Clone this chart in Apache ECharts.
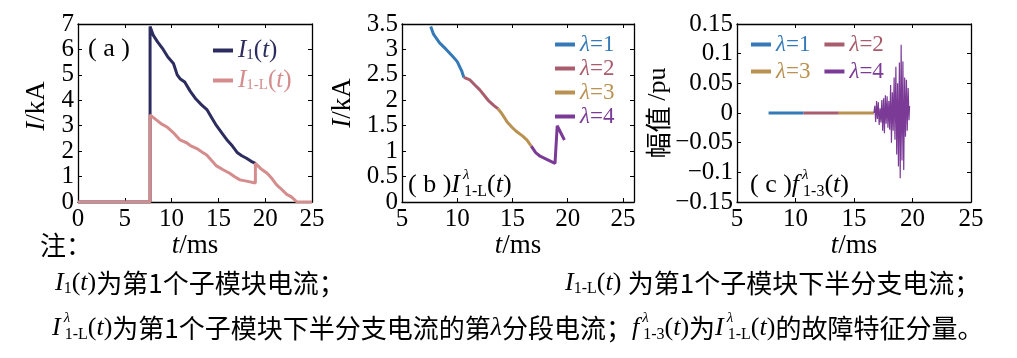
<!DOCTYPE html>
<html><head><meta charset="utf-8">
<script src="https://cdn.jsdelivr.net/npm/echarts@6/dist/echarts.min.js"></script>
<style>html,body{margin:0;padding:0;background:#fff}#c{width:1017px;height:358px}</style>
</head><body><div id="c"></div>
<script>
// ---------- data ----------
// (a) I1(t)
const tA_I1 = [0, 7.7, 7.7, 8.05, 8.5, 9.1, 9.6, 10.2, 10.6, 10.9, 11.4, 12.0, 12.6, 13.2, 13.8, 14.3, 14.8, 15.4, 15.9, 16.5, 17.0, 17.5, 18.0, 18.5, 18.95];
const vA_I1 = [0, 0, 6.9, 6.55, 6.3, 6.0, 5.7, 5.45, 5.0, 4.85, 4.72, 4.35, 4.05, 3.82, 3.62, 3.3, 3.0, 2.7, 2.45, 2.2, 1.95, 1.82, 1.72, 1.6, 1.52];
// (a) I1-L(t)
const tA_IL = [0, 7.7, 7.7, 8.4, 9.0, 9.5, 10.2, 10.9, 11.6, 12.0, 12.7, 13.2, 13.75, 14.3, 14.8, 15.5, 16.2, 16.7, 17.3, 18.0, 18.95, 18.95, 19.5, 20.2, 20.7, 21.2, 21.6, 22.3, 22.8, 23.4, 25];
const vA_IL = [0, 0, 3.42, 3.22, 3.05, 2.95, 2.72, 2.44, 2.33, 2.22, 2.1, 1.98, 1.85, 1.62, 1.42, 1.27, 1.13, 1.0, 0.87, 0.82, 0.75, 1.52, 1.32, 1.13, 0.93, 0.68, 0.55, 0.3, 0.2, 0, 0];
// (b) segments of I1-L
const tB1 = [7.6, 7.85, 8.4, 9.0, 9.6, 10.0, 10.4, 10.6];
const vB1 = [3.45, 3.3, 3.13, 3.0, 2.86, 2.76, 2.58, 2.45];
const tB2 = [10.6, 11.15, 11.6, 12.06, 12.8, 13.3, 13.7];
const vB2 = [2.45, 2.4, 2.3, 2.2, 2.0, 1.9, 1.83];
const tB3 = [13.7, 14.0, 14.5, 15.0, 15.4, 15.9, 16.3, 16.7];
const vB3 = [1.83, 1.75, 1.58, 1.46, 1.38, 1.3, 1.22, 1.1];
const tB4 = [16.7, 17.1, 17.5, 18.1, 18.85, 19.05, 19.7];
const vB4 = [1.1, 0.97, 0.9, 0.84, 0.76, 1.5, 1.22];
// (c) fault feature components
const tC1 = [7.7, 10.7];   const vC1 = [0, 0];
const tC2 = [10.7, 13.7];  const vC2 = [0, 0];
const tC3 = [13.7, 16.7];  const vC3 = [0, 0];
const tC4 = [16.70,16.78,16.85,16.93,17.00,17.08,17.15,17.23,17.30,17.38,17.45,17.53,17.60,17.68,17.75,17.83,17.90,17.98,18.05,18.13,18.20,18.28,18.35,18.43,18.50,18.58,18.65,18.73,18.80,18.88,18.95,19.03,19.10,19.18,19.25,19.33,19.40,19.48,19.55,19.63,19.70,19.75];
const vC4 = [0,0.012,-0.015,0.02,-0.01,0.018,-0.02,0.008,-0.016,0.022,-0.03,0.025,-0.034,0.03,-0.018,0.028,-0.025,0.02,-0.028,0.047,-0.05,0.035,-0.03,0.06,-0.045,0.078,-0.07,0.05,-0.09,0.085,-0.11,0.115,-0.08,0.087,-0.096,0.06,-0.04,0.056,-0.03,0.042,-0.012,0.012];
// axis ticks [min, max, interval]
const xTicksA = [0, 25, 5];
const xTicksB = [5, 26, 5];
const xTicksC = [5, 25, 5];
const yTicksA = [0, 7, 1];
const yTicksB = [0, 3.5, 0.5];
const yTicksC = [-0.15, 0.15, 0.05];
const lambdaNames = {b1:'λ=1', b2:'λ=2', b3:'λ=3', b4:'λ=4', c1:'λ=1', c2:'λ=2', c3:'λ=3', c4:'λ=4'};

// ---------- style ----------
const SERIF = '"Liberation Serif","Times New Roman",serif';
const CJK = '"Noto Sans CJK SC",sans-serif';
const NAVY = '#2c2d5e', PINK = '#d48c8d';
const C1 = '#3579b6', C2 = '#a85c6c', C3 = '#b99150', C4 = '#7a3a96';
const zip = (t, v) => t.map((x, i) => [x, v[i]]);

const grids = [
  {left: 78, top: 24, width: 234, height: 178},
  {left: 402, top: 24, width: 232, height: 178},
  {left: 737, top: 24, width: 234, height: 178}
];
const axLine = {show: true, onZero: false, lineStyle: {color: '#000', width: 1.3}};
const axTick = {show: true, inside: true, length: 4, lineStyle: {color: '#000', width: 1}};
const labStyle = {fontFamily: SERIF, fontSize: 25, color: '#000'};
const nameStyle = (extra) => Object.assign({fontFamily: SERIF, fontSize: 27, color: '#000',
  rich: {i: {fontFamily: SERIF, fontSize: 27, fontStyle: 'italic', color: '#000'},
         z: {fontFamily: CJK, fontSize: 26, color: '#000'}}}, extra || {});

function xAxes(gi, tk, showMax) {
  const common = {type: 'value', gridIndex: gi, min: tk[0], max: tk[1], interval: tk[2],
    splitLine: {show: false}, axisLine: axLine, axisTick: axTick};
  return [
    Object.assign({}, common, {position: 'bottom',
      axisLabel: Object.assign({margin: 5, showMaxLabel: showMax}, labStyle),
      name: '{i|t}/ms', nameLocation: 'middle', nameGap: 29, nameTextStyle: nameStyle()}),
    Object.assign({}, common, {position: 'top', axisLabel: {show: false}})
  ];
}
function yAxes(gi, tk, name, gap, fmt, nameExtra) {
  const common = {type: 'value', gridIndex: gi, min: tk[0], max: tk[1], interval: tk[2],
    splitLine: {show: false}, axisLine: axLine, axisTick: axTick};
  return [
    Object.assign({}, common, {position: 'left',
      axisLabel: Object.assign({margin: 4, formatter: fmt}, labStyle),
      name: name, nameLocation: 'middle', nameGap: gap, nameTextStyle: nameStyle(nameExtra)}),
    Object.assign({}, common, {position: 'right', axisLabel: {show: false}})
  ];
}
const fmtC = v => { const r = Math.round(v * 100) / 100; return r === 0 ? '0' : String(r).replace('-', '−'); };

const line = (name, data, xi, yi, color, w) => ({
  type: 'line', name: name, data: data, xAxisIndex: xi, yAxisIndex: yi,
  showSymbol: false, symbol: 'none', animation: false,
  lineStyle: {color: color, width: w}, itemStyle: {color: color}
});

const legRichA = {
  ni: {color: NAVY, fontFamily: SERIF, fontSize: 25, fontStyle: 'italic'},
  n:  {color: NAVY, fontFamily: SERIF, fontSize: 25},
  ns: {color: NAVY, fontFamily: SERIF, fontSize: 15, padding: [10, 0, 0, 0]},
  pi: {color: PINK, fontFamily: SERIF, fontSize: 25, fontStyle: 'italic'},
  p:  {color: PINK, fontFamily: SERIF, fontSize: 25},
  ps: {color: PINK, fontFamily: SERIF, fontSize: 15, padding: [10, 0, 0, 0]}
};
const lamRich = (col) => ({
  l: {color: col, fontFamily: SERIF, fontSize: 23, fontStyle: 'italic'},
  r: {color: col, fontFamily: SERIF, fontSize: 23}
});
const lamLegend = (names, colors, pos) => Object.assign({
  data: names.map((n, i) => ({name: n, textStyle: {color: colors[i], fontFamily: SERIF, fontSize: 23,
    rich: lamRich(colors[i])}})),
  icon: 'rect', itemWidth: 20, itemHeight: 4,
  formatter: n => '{l|λ}{r|' + lambdaNames[n].slice(1) + '}',
  textStyle: {fontFamily: SERIF, fontSize: 23, lineHeight: 22}
}, pos);

// rich text styles for formulas
const fRich = (fs, ss) => ({
  n: {fontFamily: SERIF, fontSize: fs, color: '#000'},
  i: {fontFamily: SERIF, fontSize: fs, fontStyle: 'italic', color: '#000'},
  sub: {fontFamily: SERIF, fontSize: ss, color: '#000', padding: [12, 0, 0, 0]},
  sup: {fontFamily: SERIF, fontSize: ss - 1, fontStyle: 'italic', color: '#000', width: 1, padding: [0, 0, 20, 3]},
  c: {fontFamily: CJK, fontSize: 26, color: '#000'},
  l: {fontFamily: SERIF, fontSize: fs, fontStyle: 'italic', color: '#000'}
});
const txt = (x, y, rich, fs, ss) => ({
  type: 'text', left: x, top: y, silent: true,
  style: {text: rich, rich: fRich(fs, ss), font: fs + 'px ' + SERIF, fill: '#000', verticalAlign: 'middle'}
});
const formulaIL = '{i|I}{sup|λ}{sub|1-L}{n|(}{i|t}{n|)}';

const option = {
  backgroundColor: '#fff',
  animation: false,
  grid: grids,
  xAxis: [].concat(xAxes(0, xTicksA, true), xAxes(1, xTicksB, false), xAxes(2, xTicksC, true)),
  yAxis: [].concat(
    yAxes(0, yTicksA, '{i|I}/kA', 28, null, {padding: [0, 0, 0, 14]}),
    yAxes(1, yTicksB, '{i|I}/kA', 46, null, {padding: [0, 0, 0, 20]}),
    yAxes(2, yTicksC, '{z|幅值 }/pu', 58, fmtC, {fontSize: 26})
  ),
  legend: [
    {data: ['I1', 'I1L'], orient: 'vertical', left: 208, top: 33, itemGap: 5,
     icon: 'rect', itemWidth: 20, itemHeight: 4,
     formatter: n => n === 'I1' ? '{ni|I}{ns|1}{n|(}{ni|t}{n|)}' : '{pi|I}{ps|1-L}{p|(}{pi|t}{p|)}',
     textStyle: {rich: legRichA}},
    lamLegend(['b1', 'b2', 'b3', 'b4'], [C1, C2, C3, C4], {orient: 'vertical', left: 550, top: 28, itemGap: 1}),
    lamLegend(['c1', 'c2'], [C1, C2], {orient: 'horizontal', left: 746, top: 28, itemGap: 14}),
    lamLegend(['c3', 'c4'], [C3, C4], {orient: 'horizontal', left: 746, top: 55, itemGap: 14})
  ],
  series: [
    line('I1', zip(tA_I1, vA_I1), 0, 0, NAVY, 3),
    line('I1L', zip(tA_IL, vA_IL), 0, 0, PINK, 3),
    line('b1', zip(tB1, vB1), 2, 2, C1, 3),
    line('b2', zip(tB2, vB2), 2, 2, C2, 3),
    line('b3', zip(tB3, vB3), 2, 2, C3, 3),
    line('b4', zip(tB4, vB4), 2, 2, C4, 3),
    line('c1', zip(tC1, vC1), 4, 4, C1, 3),
    line('c2', zip(tC2, vC2), 4, 4, C2, 3),
    line('c3', zip(tC3, vC3), 4, 4, C3, 3),
    line('c4', zip(tC4, vC4), 4, 4, C4, 1.2)
  ],
  graphic: [
    txt(88, 36, '{n|( a )}', 26, 16),
    txt(408, 168, '{n|( b )}' + formulaIL, 26, 16),
    txt(750, 168, '{n|( c )}{i|f}{sup|λ}{sub|1-3}{n|(}{i|t}{n|)}', 26, 16),
    txt(40, 232, '{c|注：}', 26, 16),
    txt(55, 270, '{i|I}{sub|1}{n|(}{i|t}{n|)}{c|为第1个子模块电流；}', 26, 16),
    txt(565, 270, '{i|I}{sub|1-L}{n|(}{i|t}{n|) }{c|为第1个子模块下半分支电流；}', 26, 16),
    txt(52, 311, formulaIL + '{c|为第1个子模块下半分支电流的第}{l|λ}{c|分段电流；}{i|f}{sup|λ}{sub|1-3}{n|(}{i|t}{n|)}{c|为}' + formulaIL + '{c|的故障特征分量。}', 26, 16)
  ]
};
echarts.init(document.getElementById('c')).setOption(option);
</script>
</body></html>
